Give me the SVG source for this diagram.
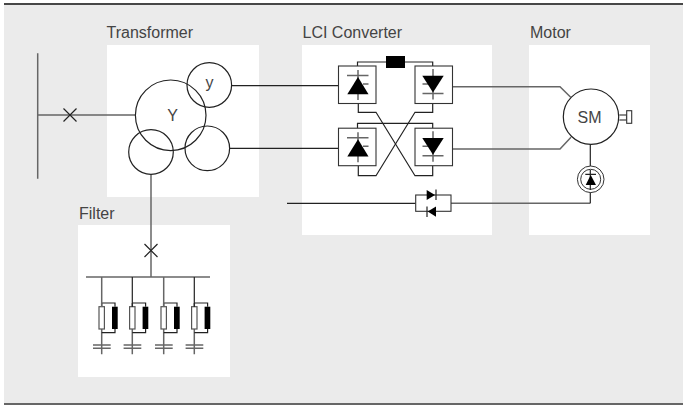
<svg xmlns="http://www.w3.org/2000/svg" xmlns:xlink="http://www.w3.org/1999/xlink" width="683" height="405" viewBox="0 0 683 405">
<style>
text{font-family:"Liberation Sans",Arial,sans-serif;fill:#444;font-size:16px}
.l{fill:none;stroke:#222;stroke-width:1.2}
.g{fill:none;stroke:#666;stroke-width:1.5}
.c{fill:none;stroke:#222;stroke-width:1.2}
.b{fill:#000;stroke:none}
.box{fill:#fff;stroke:#333;stroke-width:1.1}
</style>
<defs>
<g id="up"><rect class="box" x="-19.500" y="-19" width="37.500" height="37.500"/><path class="g" d="M0-15V15M-11-9.500H10.500M5-1H10.500"/><path class="b" d="M0-8L10.500 9.300H-10.700Z"/></g>
<g id="dn"><rect class="box" x="-18" y="-19" width="37.500" height="37.500"/><path class="g" d="M0-16V14.500M-10.500 8.500H10.500M-10.500-1H-5"/><path class="b" d="M-10.700-9.300H10.700L0 7.500Z"/></g>
<g id="br"><path class="g" d="M0-17V-13.300M0 9V34.300M-8.700 25H9M-8.700 28.300H9"/><rect x="-2.700" y="-13.300" width="5.400" height="22.300" fill="#fff" stroke="#555" stroke-width="1.200"/><rect x="10.300" y="-13.300" width="5.700" height="22.300" fill="#000"/><path class="c" d="M0-17H13.300V-13.300M13.300 9V12.700H0"/></g>
</defs>
<rect width="683" height="405" fill="#fff"/>
<rect x="4" y="3" width="679" height="402" fill="#ebebeb"/>
<path d="M4 4H683" stroke="#111" stroke-width="1.500"/>
<path d="M4 404H683" stroke="#666" stroke-width="2"/>
<rect x="107" y="45" width="152" height="152" fill="#fff"/>
<rect x="302" y="45" width="190" height="190" fill="#fff"/>
<rect x="529" y="45" width="121" height="190" fill="#fff"/>
<rect x="78" y="225" width="152" height="152" fill="#fff"/>
<text x="106.500" y="38">Transformer</text>
<text x="302.500" y="38">LCI Converter</text>
<text x="530" y="38">Motor</text>
<text x="79" y="219">Filter</text>
<g id="connectors">
<path class="g" d="M37.700 53.300V178.700M37.700 115H135.400"/>
<path class="c" d="M63.500 108.500L76.500 121.500M63.500 121.500L76.500 108.500"/>
<path class="g" d="M151 174.500V277"/>
<path class="c" d="M144.500 244L157.500 257M144.500 257L157.500 244"/>
<path class="g" d="M86 277H210"/>
<path class="l" d="M231.600 85.700H338.500M229.700 148.300H338.500"/>
<path class="g" d="M452 86.700H560L570.700 97.300M452 149H560L571 137.300"/>
<path class="l" d="M357.500 66V62H386M405 62H432.700V66"/>
<path class="l" d="M357.500 128.500V123.300H432.700V128.500"/>
<path class="l" d="M358.300 103.500V112.300H376L415 175.700H432.700V165.700"/>
<path class="l" d="M432.700 103.500V112.300H415L376 175.700H358.300V165.700"/>
<path class="l" d="M287 203.300H415.700"/>
<path class="g" d="M451 203.300H590.300"/>
<path class="l" d="M590.300 144.400V203.300"/>
<path class="g" d="M619.300 115H626.700V120H619.300"/>
</g>
<rect id="reactor" x="386" y="56" width="19" height="12" fill="#000"/>
<g id="transformer">
<circle class="c" cx="170.700" cy="115.300" r="35.300"/>
<circle class="c" cx="209.300" cy="85" r="22.300"/>
<circle class="c" cx="207.300" cy="148.300" r="22.300"/>
<circle class="c" cx="151" cy="152" r="22.300"/>
<text x="172.500" y="121" text-anchor="middle">Y</text>
<text x="209.500" y="88" text-anchor="middle">y</text>
</g>
<g id="converter">
<use xlink:href="#up" href="#up" x="358" y="85"/>
<use xlink:href="#dn" href="#dn" x="433" y="85"/>
<use xlink:href="#up" href="#up" x="358" y="147.200"/>
<use xlink:href="#dn" href="#dn" x="433" y="147.200"/>
</g>
<g id="bypass">
<rect x="415.700" y="195" width="35.300" height="16.300" fill="#fff" stroke="#333" stroke-width="1.100"/>
<path class="b" d="M426.700 190L435 195 426.700 200Z"/>
<path class="c" d="M436 189.500V200M427 206.500V217"/>
<path class="b" d="M436 206.500L427.700 211.500 436 216.700Z"/>
</g>
<g id="motor">
<circle class="c" cx="591" cy="116.700" r="27.700" fill="#fff"/>
<text x="589.500" y="122.500" text-anchor="middle">SM</text>
<rect x="626.700" y="110.700" width="5" height="12.600" fill="#fff" stroke="#333" stroke-width="1.100"/>
</g>
<g id="exciter">
<circle cx="590.700" cy="179.300" r="13.300" fill="#fff" stroke="#333" stroke-width="1"/>
<circle cx="590.700" cy="179.300" r="10" fill="#fff" stroke="#333" stroke-width="1"/>
<path class="c" d="M590.300 170V190M585.300 174.400H596"/>
<path class="b" d="M590.700 175L596 185H585.700Z"/>
</g>
<g id="filter">
<use xlink:href="#br" href="#br" x="101.700" y="320"/>
<use xlink:href="#br" href="#br" x="132.300" y="320"/>
<use xlink:href="#br" href="#br" x="163.700" y="320"/>
<use xlink:href="#br" href="#br" x="194.300" y="320"/>
<path class="g" d="M101.700 277V307M163.700 277V307"/>
<path class="l" d="M132.300 277V307M194.300 277V307"/>
</g>
</svg>
